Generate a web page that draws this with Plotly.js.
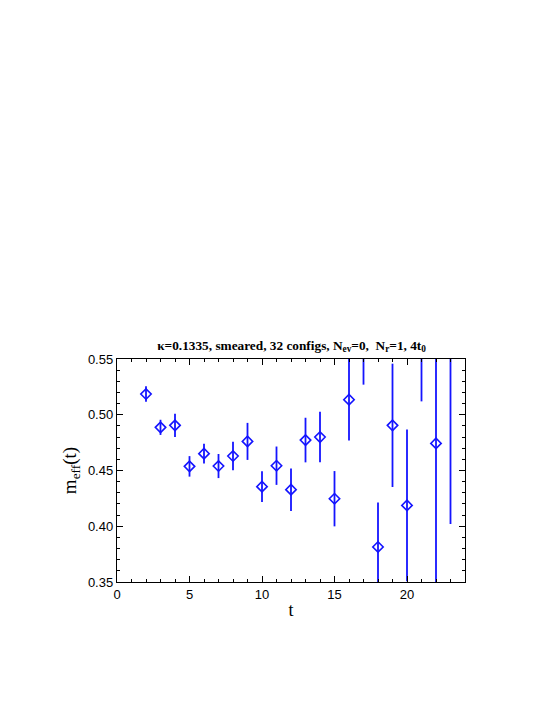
<!DOCTYPE html>
<html>
<head>
<meta charset="utf-8">
<script src="https://cdn.plot.ly/plotly-3.0.1.min.js"></script>
<style>
  html, body { margin: 0; padding: 0; background: #fff; }
  #chart { width: 545px; height: 705px; }
</style>
</head>
<body>
<div id="chart"></div>
<script>
// effective mass vs t
const tValues = [2, 3, 4, 5, 6, 7, 8, 9, 10, 11, 12, 13, 14, 15, 16, 17, 18, 19, 20, 21, 22, 23];
const meffValues = [0.5186, 0.4887, 0.4905, 0.4537, 0.4651, 0.4540, 0.4630, 0.4761, 0.4355, 0.4543,
                    0.4328, 0.4773, 0.4800, 0.4247, 0.5135, 0.5900, 0.3814, 0.4905, 0.4187, 0.5900,
                    0.4743, 0.5700];
const meffErrors = [0.0070, 0.0068, 0.0105, 0.0092, 0.0088, 0.0108, 0.0127, 0.0166, 0.0138, 0.0172,
                    0.0191, 0.0200, 0.0227, 0.0248, 0.0365, 0.0630, 0.0400, 0.0553, 0.0680, 0.0780,
                    0.1300, 0.1680];

const blue = 'rgb(20,20,255)';

const trace = {
    x: tValues,
    y: meffValues,
    type: 'scatter',
    mode: 'markers',
    cliponaxis: true,
    marker: {symbol: 'diamond-open', size: 8, color: blue, line: {color: blue, width: 1.6}},
    error_y: {type: 'data', array: meffErrors, visible: true, color: blue, thickness: 1.8, width: 0},
    showlegend: false
};

const axisCommon = {
    showline: true,
    linecolor: '#000',
    linewidth: 1.2,
    mirror: 'allticks',
    ticks: 'inside',
    ticklen: 6,
    tickwidth: 1,
    tickcolor: '#000',
    showgrid: false,
    zeroline: false,
    tickfont: {family: 'Liberation Sans, Arial, sans-serif', size: 13, color: '#000'}
};

const layout = {
    width: 545,
    height: 705,
    margin: {l: 117, r: 80, t: 359, b: 123},
    paper_bgcolor: '#fff',
    plot_bgcolor: '#fff',
    title: {
        text: '\u03BA=0.1335, smeared, 32 configs, N<sub>ev</sub>=0,  N<sub>r</sub>=1, 4t<sub>0</sub>',
        font: {family: 'Liberation Serif, Times New Roman, serif', size: 13.3, color: '#000', weight: 'bold'},
        x: 0.535,
        xanchor: 'center',
        y: 1 - 345 / 705,
        yanchor: 'middle'
    },
    xaxis: Object.assign({}, axisCommon, {
        range: [0, 24],
        tick0: 0,
        dtick: 5,
        minor: {ticks: 'inside', dtick: 1, ticklen: 3, tickcolor: '#000'},
        title: {text: 't', font: {family: 'Liberation Serif, Times New Roman, serif', size: 18, color: '#000'}, standoff: 2}
    }),
    yaxis: Object.assign({}, axisCommon, {
        range: [0.35, 0.55],
        tick0: 0.35,
        dtick: 0.05,
        tickformat: '.2f',
        minor: {ticks: 'inside', dtick: 0.01, ticklen: 3, tickcolor: '#000'},
        title: {text: 'm<sub>eff</sub>(t)', font: {family: 'Liberation Serif, Times New Roman, serif', size: 19, color: '#000'}, standoff: 6}
    })
};

Plotly.newPlot('chart', [trace], layout, {displayModeBar: false, staticPlot: true});
</script>
</body>
</html>
